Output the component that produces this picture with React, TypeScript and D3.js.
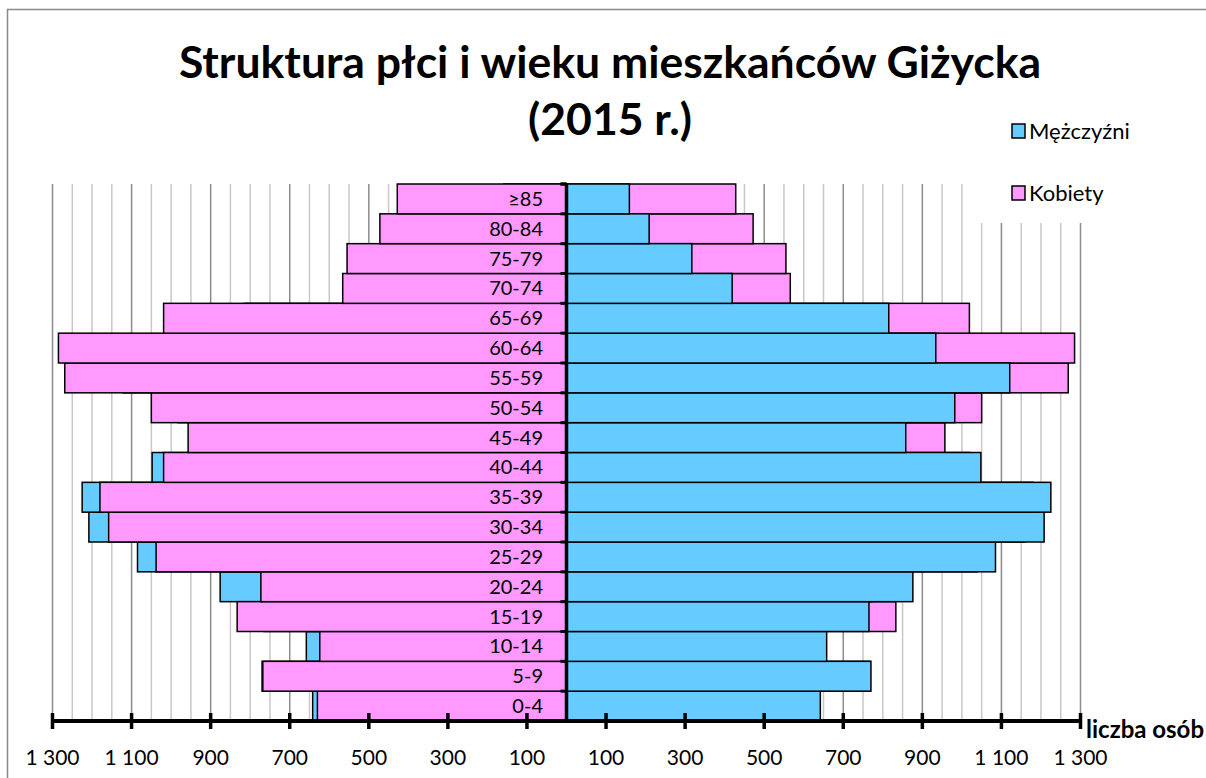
import React, { useEffect, useRef } from "react";
import * as d3 from "d3";

// age groups from bottom to top
const ageGroups = ["0-4", "5-9", "10-14", "15-19", "20-24", "25-29", "30-34", "35-39", "40-44", "45-49", "50-54", "55-59", "60-64", "65-69", "70-74", "75-79", "80-84", "≥85"];
const men = [642, 770, 658, 765, 876, 1085, 1208, 1225, 1048, 858, 982, 1121, 934, 815, 419, 317, 209, 159];
const women = [630, 768, 624, 833, 773, 1038, 1158, 1180, 1019, 957, 1050, 1269, 1285, 1019, 566, 555, 472, 428];
const seriesNames = ["Mężczyźni", "Kobiety"];
const tickValues = [100, 300, 500, 700, 900, 1100, 1300];
const titleLines = ["Struktura płci i wieku mieszkańców Giżycka", "(2015 r.)"];
const axisTitle = "liczba osób";

const W = 1206;
const H = 778;
const FONT = "Lato, 'Open Sans', sans-serif";
const BLUE = "#66ccff";
const PINK = "#ff99ff";

export default function App() {
  const ref = useRef<SVGSVGElement | null>(null);

  useEffect(() => {
    const svg = d3.select(ref.current);
    svg.selectAll("*").remove();

    const cx = 566.5;
    const top = 184;
    const bottom = 721;
    const maxV = 1300;

    const xL = d3.scaleLinear().domain([0, maxV]).range([cx, 52.5]);
    const xR = d3.scaleLinear().domain([0, maxV]).range([cx, 1080.5]);
    const y = d3.scaleBand().domain(ageGroups).range([bottom, top]).padding(0);

    const fmt = d3.formatLocale({ decimal: ",", thousands: " ", grouping: [3], currency: ["", " zł"] }).format(",d");

    const data = ageGroups.map((a, i) => ({ age: a, m: men[i], k: women[i] }));

    // frame
    svg.append("rect")
      .attr("x", 7.5).attr("y", 9.5)
      .attr("width", 1400).attr("height", 1000)
      .attr("fill", "#fff")
      .attr("stroke", "#8a8a8a").attr("stroke-width", 1.5);

    // gridlines every 50, darker at the labelled ticks
    const grid = d3.range(50, maxV + 1, 50);
    const gGrid = svg.append("g");
    [xL, xR].forEach(sc => {
      gGrid.selectAll(null)
        .data(grid)
        .join("line")
        .attr("x1", d => sc(d)).attr("x2", d => sc(d))
        .attr("y1", top).attr("y2", bottom)
        .attr("stroke", d => ((d - 100) % 200 === 0 ? "#8c8c8c" : "#c8c8c8"))
        .attr("stroke-width", 1.5);
    });

    // legend area covers the grid
    svg.append("rect")
      .attr("x", 970).attr("y", 100)
      .attr("width", 240).attr("height", 123)
      .attr("fill", "#fff");

    const bars = svg.append("g").attr("stroke", "#000").attr("stroke-width", 1.5);

    // left: men behind, women in front
    bars.selectAll(null).data(data).join("rect")
      .attr("x", d => xL(d.m)).attr("y", d => y(d.age)!)
      .attr("width", d => cx - xL(d.m)).attr("height", y.bandwidth())
      .attr("fill", BLUE);
    bars.selectAll(null).data(data).join("rect")
      .attr("x", d => xL(d.k)).attr("y", d => y(d.age)!)
      .attr("width", d => cx - xL(d.k)).attr("height", y.bandwidth())
      .attr("fill", PINK);

    // right: women behind, men in front
    bars.selectAll(null).data(data).join("rect")
      .attr("x", cx).attr("y", d => y(d.age)!)
      .attr("width", d => xR(d.k) - cx).attr("height", y.bandwidth())
      .attr("fill", PINK);
    bars.selectAll(null).data(data).join("rect")
      .attr("x", cx).attr("y", d => y(d.age)!)
      .attr("width", d => xR(d.m) - cx).attr("height", y.bandwidth())
      .attr("fill", BLUE);

    // central category axis
    svg.append("line")
      .attr("x1", cx).attr("x2", cx)
      .attr("y1", top).attr("y2", bottom)
      .attr("stroke", "#000").attr("stroke-width", 3.5);
    svg.selectAll(null)
      .data(ageGroups.map(a => y(a)!).concat([top]))
      .join("line")
      .attr("x1", cx - 6).attr("x2", cx)
      .attr("y1", d => d).attr("y2", d => d)
      .attr("stroke", "#000").attr("stroke-width", 3);

    svg.append("g")
      .selectAll("text")
      .data(ageGroups)
      .join("text")
      .attr("x", 543)
      .attr("y", d => y(d)! + y.bandwidth() / 2)
      .attr("dy", "0.35em")
      .attr("text-anchor", "end")
      .attr("font-family", FONT)
      .attr("font-size", 20)
      .attr("fill", "#000")
      .text(d => d);

    // bottom value axis
    svg.append("line")
      .attr("x1", xL(maxV)).attr("x2", xR(maxV))
      .attr("y1", bottom).attr("y2", bottom)
      .attr("stroke", "#000").attr("stroke-width", 4);

    [xL, xR].forEach(sc => {
      svg.selectAll(null)
        .data(tickValues)
        .join("line")
        .attr("x1", d => sc(d)).attr("x2", d => sc(d))
        .attr("y1", bottom - 8).attr("y2", bottom + 8)
        .attr("stroke", "#000").attr("stroke-width", 3.5);
      svg.selectAll(null)
        .data(tickValues)
        .join("text")
        .attr("x", d => sc(d))
        .attr("y", 765)
        .attr("text-anchor", "middle")
        .attr("font-family", FONT)
        .attr("font-size", 21)
        .attr("fill", "#000")
        .text(d => fmt(d));
    });

    svg.append("text")
      .attr("x", 1086).attr("y", 738)
      .attr("font-family", FONT)
      .attr("font-size", 24)
      .attr("font-weight", "bold")
      .text(axisTitle);

    // title
    svg.append("g")
      .selectAll("text")
      .data(titleLines)
      .join("text")
      .attr("x", 610)
      .attr("y", (d, i) => 78 + i * 57)
      .attr("text-anchor", "middle")
      .attr("font-family", FONT)
      .attr("font-size", 44.5)
      .attr("font-weight", "bold")
      .attr("fill", "#000")
      .text(d => d);

    // legend
    const legend = svg.append("g")
      .selectAll("g")
      .data(seriesNames)
      .join("g")
      .attr("transform", (d, i) => `translate(1012,${131 + i * 62})`);
    legend.append("rect")
      .attr("x", 0).attr("y", -7)
      .attr("width", 13).attr("height", 14)
      .attr("fill", (d, i) => (i === 0 ? BLUE : PINK))
      .attr("stroke", "#000").attr("stroke-width", 1.5);
    legend.append("text")
      .attr("x", 17).attr("y", 0)
      .attr("dy", "0.35em")
      .attr("font-family", FONT)
      .attr("font-size", 22)
      .attr("fill", "#000")
      .text(d => d);
  }, []);

  return (
    <svg
      ref={ref}
      width={W}
      height={H}
      style={{ position: "absolute", left: 0, top: 0, background: "#fff" }}
    />
  );
}
